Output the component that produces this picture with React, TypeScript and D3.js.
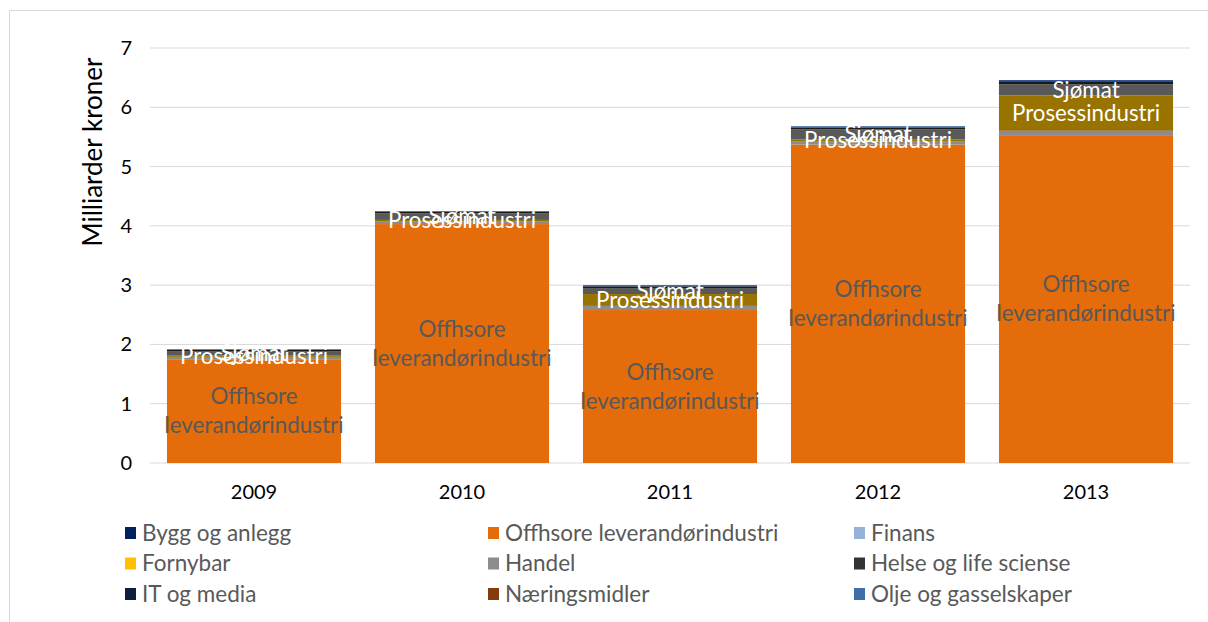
import React, { useEffect } from "react";
import * as d3 from "d3";

const years = ["2009", "2010", "2011", "2012", "2013"];

const seriesNames = [
  "Bygg og anlegg",
  "Offhsore leverandørindustri",
  "Finans",
  "Fornybar",
  "Handel",
  "Helse og life sciense",
  "IT og media",
  "Næringsmidler",
  "Olje og gasselskaper",
  "Prosessindustri",
  "Sjømat",
  "Teknologi",
  "Øvrige",
];

const legendNames = [
  "Bygg og anlegg",
  "Offhsore leverandørindustri",
  "Finans",
  "Fornybar",
  "Handel",
  "Helse og life sciense",
  "IT og media",
  "Næringsmidler",
  "Olje og gasselskaper",
];

const seriesColors = [
  "#002060",
  "#E46C0A",
  "#95B3D7",
  "#FFC000",
  "#8C8C8C",
  "#333333",
  "#0F1E3C",
  "#843C0C",
  "#3F6FA8",
  "#997300",
  "#595959",
  "#1A1A1A",
  "#2F5597",
];

const byggValues = [0, 0, 0, 0, 0];
const offshoreValues = [1.74, 4.03, 2.58, 5.37, 5.53];
const finansValues = [0, 0, 0, 0, 0];
const fornybarValues = [0, 0, 0, 0, 0];
const handelValues = [0.05, 0.05, 0.07, 0.06, 0.07];
const helseValues = [0, 0, 0, 0, 0];
const itValues = [0, 0, 0, 0, 0];
const naeringValues = [0, 0, 0, 0, 0.01];
const oljeValues = [0, 0, 0, 0, 0];
const prosessValues = [0.02, 0.02, 0.2, 0.03, 0.59];
const sjomatValues = [0.07, 0.11, 0.1, 0.17, 0.19];
const teknologiValues = [0.03, 0.03, 0.03, 0.03, 0.05];
const ovrigeValues = [0.01, 0.01, 0.02, 0.02, 0.02];

const allValues = [
  byggValues,
  offshoreValues,
  finansValues,
  fornybarValues,
  handelValues,
  helseValues,
  itValues,
  naeringValues,
  oljeValues,
  prosessValues,
  sjomatValues,
  teknologiValues,
  ovrigeValues,
];

const yTicks = [0, 1, 2, 3, 4, 5, 6, 7];

const W = 1208;
const H = 622;
const FONT = "Lato, 'Open Sans', sans-serif";

export default function App() {
  useEffect(() => {
    document.body.style.margin = "0";
  }, []);

  const rows = years.map((y, i) => {
    const r: any = { year: y };
    seriesNames.forEach((s, k) => (r[s] = allValues[k][i]));
    return r;
  });
  const stacked = d3.stack<any>().keys(seriesNames)(rows);

  const x = d3.scaleBand().domain(years).range([150, 1190]).paddingInner(0.163).paddingOuter(0.0815);
  const y = d3.scaleLinear().domain([0, 7]).range([463, 48]);

  const labelSeries: Record<string, string> = {
    "Offhsore leverandørindustri": "#595959",
    Prosessindustri: "#FFFFFF",
    Sjømat: "#FFFFFF",
  };

  const legendCols = [125, 488, 854];
  const legendRow0 = 533;
  const legendRowGap = 30.5;

  return (
    <svg width={W} height={H} style={{ display: "block", background: "#fff" }}>
      <rect x={9.5} y={10.5} width={W + 10} height={H + 10} fill="#fff" stroke="#D9D9D9" strokeWidth={1} />
      {yTicks.map((t) => (
        <g key={t}>
          <line x1={150} x2={1190} y1={y(t)} y2={y(t)} stroke="#D9D9D9" strokeWidth={1} />
          <text x={132} y={y(t)} dy="0.35em" textAnchor="end" fontFamily={FONT} fontSize={20} fill="#000">
            {t}
          </text>
        </g>
      ))}
      <text
        transform={`translate(102,152) rotate(-90)`}
        textAnchor="middle"
        fontFamily={FONT}
        fontSize={26}
        fill="#000"
      >
        Milliarder kroner
      </text>
      {stacked.map((layer, k) => (
        <g key={layer.key} fill={seriesColors[k]}>
          {layer.map((d, i) => {
            const h = y(d[0]) - y(d[1]);
            if (h <= 0) return null;
            return <rect key={i} x={x(years[i])} width={x.bandwidth()} y={y(d[1])} height={h} />;
          })}
        </g>
      ))}
      {stacked.map((layer) => {
        const col = labelSeries[layer.key];
        if (!col) return null;
        return (
          <g key={"lbl" + layer.key}>
            {layer.map((d, i) => {
              const cx = (x(years[i]) as number) + x.bandwidth() / 2;
              const cy = y((d[0] + d[1]) / 2);
              if (layer.key.startsWith("Offhsore")) {
                return (
                  <text key={i} x={cx} y={cy} textAnchor="middle" fontFamily={FONT} fontSize={22.4} fill={col}>
                    <tspan x={cx} dy={-7}>Offhsore</tspan>
                    <tspan x={cx} dy={29}>leverandørindustri</tspan>
                  </text>
                );
              }
              return (
                <text key={i} x={cx} y={cy} dy="0.35em" textAnchor="middle" fontFamily={FONT} fontSize={22.3} fill={col}>
                  {layer.key}
                </text>
              );
            })}
          </g>
        );
      })}
      {years.map((yr) => (
        <text
          key={yr}
          x={(x(yr) as number) + x.bandwidth() / 2}
          y={492}
          dy="0.35em"
          textAnchor="middle"
          fontFamily={FONT}
          fontSize={20}
          fill="#000"
        >
          {yr}
        </text>
      ))}
      {legendNames.map((n, k) => {
        const col = k % 3;
        const row = Math.floor(k / 3);
        const lx = legendCols[col];
        const ly = legendRow0 + row * legendRowGap;
        return (
          <g key={n}>
            <rect x={lx} y={ly - 6} width={11} height={12} fill={seriesColors[k]} />
            <text x={lx + 17} y={ly} dy="0.35em" fontFamily={FONT} fontSize={22.5} fill="#595959">
              {n}
            </text>
          </g>
        );
      })}
    </svg>
  );
}
